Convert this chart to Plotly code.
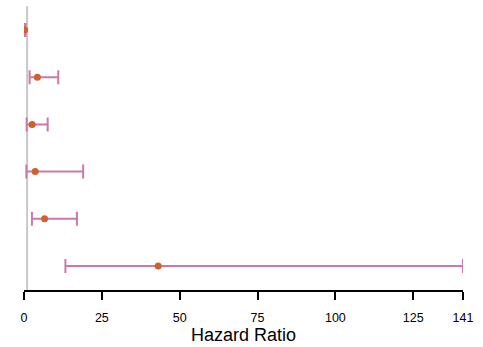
import plotly.graph_objects as go

rows = [6, 5, 4, 3, 2, 1]
estimate = [0.2, 4.3, 2.6, 3.6, 6.6, 43.1]
lower = [0.0, 1.8, 0.85, 0.75, 2.55, 13.3]
upper = [0.5, 11.0, 7.6, 19.0, 17.0, 141.0]
tick_vals = [0, 25, 50, 75, 100, 125, 141]
tick_text = ["0", "25", "50", "75", "100", "125", "141"]

fig = go.Figure()
fig.add_trace(go.Scatter(
    x=estimate, y=rows, mode="markers",
    marker=dict(color="#D2602A", size=7),
    error_x=dict(type="data", symmetric=False,
                 array=[u - e for u, e in zip(upper, estimate)],
                 arrayminus=[e - l for e, l in zip(estimate, lower)],
                 color="#CC79A7", thickness=2, width=7),
    showlegend=False,
))
fig.add_shape(type="line", x0=1, x1=1, xref="x", y0=0, y1=1, yref="paper",
              line=dict(color="#C8C8C8", width=2), layer="below")
fig.update_layout(
    width=483, height=347,
    margin=dict(l=24, r=20, t=6, b=57),
    paper_bgcolor="white", plot_bgcolor="white",
    font=dict(family="Liberation Sans, Arial, sans-serif", color="black"),
    xaxis=dict(range=[0, 141], tickvals=tick_vals, ticktext=tick_text,
               showline=True, linecolor="black", linewidth=1.5,
               ticks="outside", ticklen=8, tickwidth=1.5, tickcolor="black",
               showgrid=False, zeroline=False, tickfont=dict(size=12.5),
               ticklabelstandoff=7,
               title=dict(text="Hazard Ratio", font=dict(size=18), standoff=5)),
    yaxis=dict(range=[0.49, 6.51], showticklabels=False, showgrid=False,
               zeroline=False, showline=False, ticks=""),
)
fig.write_html("out.html")
